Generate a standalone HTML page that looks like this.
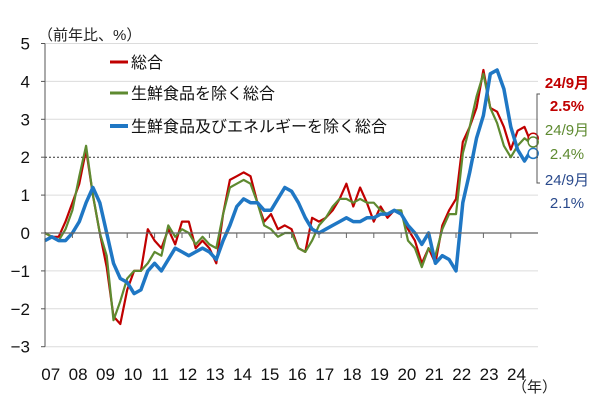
<!DOCTYPE html>
<html><head><meta charset="utf-8"><style>
body{margin:0;background:#fff;}
svg{display:block;font-family:"Liberation Sans","Noto Sans CJK JP",sans-serif;}
</style></head><body>
<svg id="chart" width="600" height="413" viewBox="0 0 600 413">
<g id="grid"></g><g id="series"></g><g id="axes"></g>
<text x="38" y="40" font-size="15" fill="#222">（前年比、%）</text>
<text x="512" y="392" font-size="15" fill="#222">（年）</text>
<g>
 <g><line x1="110" y1="62" x2="128" y2="62" stroke="#c00000" stroke-width="3"/><text x="131" y="68" font-size="16" fill="#111">総合</text></g>
 <g><line x1="110" y1="93" x2="128" y2="93" stroke="#5e8a30" stroke-width="3"/><text x="131" y="99" font-size="16" fill="#111">生鮮食品を除く総合</text></g>
 <g><line x1="110" y1="126" x2="128" y2="126" stroke="#1f77c4" stroke-width="4"/><text x="131" y="132" font-size="16" fill="#111">生鮮食品及びエネルギーを除く総合</text></g>
</g>
<path d="M540 94 H537 V183 H540" fill="none" stroke="#555" stroke-width="1"/>
<g font-size="15" text-anchor="middle">
 <text x="567" y="88" fill="#c00000" font-weight="bold">24/9月</text>
 <text x="567" y="111" fill="#c00000" font-weight="bold">2.5%</text>
 <text x="567" y="135" fill="#5e8a30">24/9月</text>
 <text x="567" y="159" fill="#5e8a30">2.4%</text>
 <text x="567" y="185" fill="#2a4a8c">24/9月</text>
 <text x="567" y="208" fill="#2a4a8c">2.1%</text>
</g>
</svg>
<script>
const yTicks=[5,4,3,2,1,0,-1,-2,-3];
const yearLabels=["07","08","09","10","11","12","13","14","15","16","17","18","19","20","21","22","23","24"];
const times=[];
for(let y=2007;y<=2024;y++){for(let q=0;q<4;q++){if(y===2024&&q===3)break;times.push(y+q*0.25);}}
times.push(2024.67);
const overall=[0,-0.1,-0.1,0.3, 0.8,1.3,2.2,1.0, 0,-0.9,-2.2,-2.4, -1.5,-1.0,-1.0,0.1, -0.2,-0.4,0.1,-0.3, 0.3,0.3,-0.4,-0.2, -0.4,-0.8,0.5,1.4, 1.5,1.6,1.5,0.8, 0.3,0.5,0.1,0.2, 0.1,-0.4,-0.5,0.4, 0.3,0.4,0.6,0.9, 1.3,0.7,1.2,0.8, 0.3,0.7,0.4,0.6, 0.5,0.1,-0.2,-0.8, -0.4,-0.8,0.2,0.6, 0.9,2.4,2.8,3.3, 4.3,3.3,3.2,2.8, 2.2,2.7,2.8,2.5];
const core=[0,-0.1,-0.2,0.1, 0.6,1.5,2.3,1.0, 0,-0.6,-2.3,-1.8, -1.2,-1.0,-1.0,-0.8, -0.5,-0.6,0.2,-0.1, 0.1,0.0,-0.3,-0.1, -0.3,-0.4,0.5,1.2, 1.3,1.4,1.3,0.8, 0.2,0.1,-0.1,0.0, 0.0,-0.4,-0.5,-0.2, 0.2,0.4,0.7,0.9, 0.9,0.8,0.9,0.8, 0.8,0.6,0.5,0.6, 0.6,-0.2,-0.4,-0.9, -0.4,-0.6,0.1,0.5, 0.5,2.1,2.8,3.6, 4.2,3.3,2.9,2.3, 2.0,2.3,2.5,2.4];
const coreCore=[-0.2,-0.1,-0.2,-0.2, 0.0,0.3,0.8,1.2, 0.8,0.0,-0.8,-1.2, -1.3,-1.6,-1.5,-1.0, -0.8,-1.0,-0.7,-0.4, -0.5,-0.6,-0.5,-0.4, -0.5,-0.7,-0.2,0.2, 0.7,0.9,0.8,0.8, 0.6,0.6,0.9,1.2, 1.1,0.8,0.4,0.1, 0.0,0.1,0.2,0.3, 0.4,0.3,0.3,0.4, 0.4,0.5,0.5,0.6, 0.5,0.2,0.0,-0.3, 0.0,-0.8,-0.6,-0.7, -1.0,0.8,1.6,2.5, 3.1,4.2,4.3,3.8, 2.8,2.2,1.9,2.1];
const NS="http://www.w3.org/2000/svg";
const X0=45,YW=27.4,Y0=233,YU=37.9,XR=538;
function xs(t){return X0+(t-2007)*YW;}
function ys(v){return Y0-v*YU;}
function mk(tag,attrs,parent){const e=document.createElementNS(NS,tag);for(const k in attrs)e.setAttribute(k,attrs[k]);parent.appendChild(e);return e;}
const grid=document.getElementById('grid'),axes=document.getElementById('axes'),ser=document.getElementById('series');
yTicks.forEach(v=>{
 const y=ys(v);
 if(v!==0&&v!==2){const l=mk('line',{x1:X0,x2:XR,y1:y,y2:y,stroke:'#dcdcdc','stroke-width':1},grid);
 
 }
 const tk=mk('line',{x1:X0-4,x2:X0,y1:y,y2:y,stroke:'#555'},axes);
 
 
 const t=mk('text',{x:30,y:y+6,'font-size':17,'text-anchor':'end',fill:'#111'},axes);
 t.textContent=v<0?'−'+(-v):String(v);
 
 
});
const dl=mk('line',{x1:X0,x2:XR,y1:ys(2),y2:ys(2),stroke:'#333','stroke-dasharray':'2,2'},grid);


const zl=mk('line',{x1:X0,x2:XR,y1:ys(0),y2:ys(0),stroke:'#666','stroke-width':1.2},axes);


const ya=mk('line',{x1:X0,x2:X0,y1:ys(5),y2:ys(-3),stroke:'#555'},axes);


yearLabels.forEach((lb,i)=>{
 const x=xs(2007+i);
 const tk=mk('line',{x1:x,x2:x,y1:ys(0),y2:ys(0)+5,stroke:'#666'},axes);
 
 
 const t=mk('text',{x:x+YW/2-8,y:380,'font-size':17,'text-anchor':'middle',fill:'#111'},axes);
 t.textContent=lb;
 
 
});
function line(vals,color,w,name){
 const d=vals.map((v,i)=>(i?'L':'M')+xs(times[i]).toFixed(1)+' '+ys(v).toFixed(1)).join(' ');
 const p=mk('path',{d:d,fill:'none',stroke:color,'stroke-width':w,'stroke-linejoin':'round'},ser);
 
 
 const n=vals.length-1;
 const c=mk('circle',{cx:xs(times[n])+4,cy:ys(vals[n]),r:5,fill:'#fff',stroke:color,'stroke-width':1.5},ser);
 
 
}
line(overall,'#c00000',2.2,'series-overall');
line(core,'#5e8a30',2.2,'series-core');
line(coreCore,'#1f77c4',3.5,'series-core-core');
</script>
</body></html>
